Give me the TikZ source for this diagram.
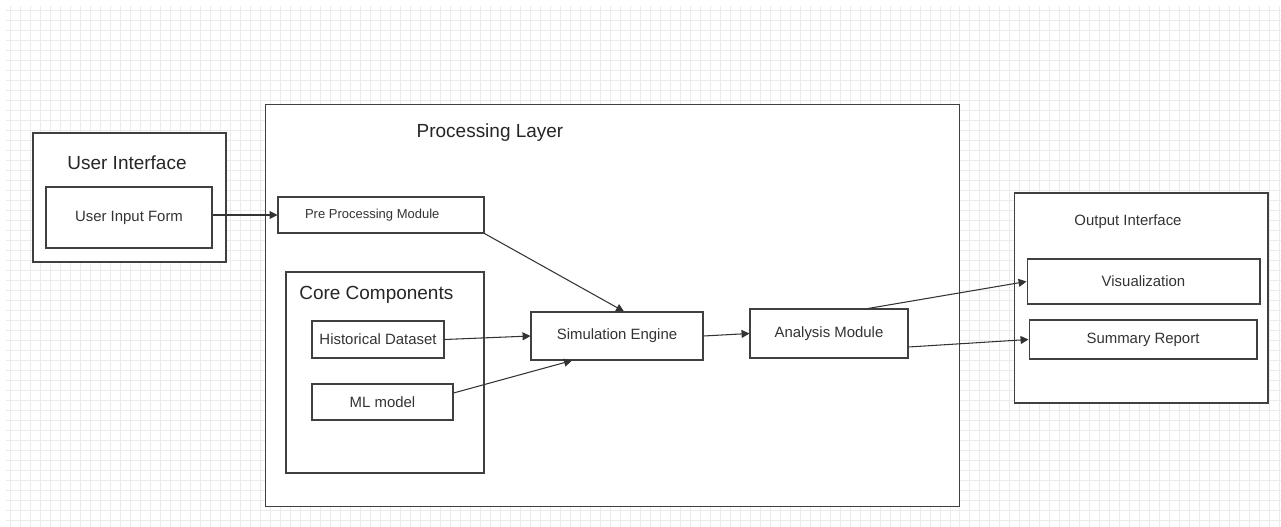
\documentclass[tikz,border=0pt]{standalone}
\usepackage{fontspec}
\setmainfont{Liberation Sans}
\usetikzlibrary{arrows.meta}
\begin{document}
\begin{tikzpicture}[x=0.02cm,y=-0.02cm,
  box/.style={draw=black!75, line width=0.6pt, inner sep=0pt, align=center, text=black!80},
  bigtitle/.style={font=\fontsize{10.8}{12}\selectfont, text=black!85, inner sep=0pt},
  small/.style={font=\fontsize{8.5}{10}\selectfont},
  conn/.style={draw=black!80, line width=0.6pt, -{Triangle[length=4.5pt,width=4.5pt]}}]
\useasboundingbox (0,0) rectangle (1281,527);
\fill[white] (0,0) rectangle (1281,527);
\draw[black!8, line width=0.35pt, step=0.2cm] (6,6) grid (1281,527);
% containers
\node[box, fill=white, minimum width=13.9cm, minimum height=8.06cm] (proc) at (612.5,305.5) {};
\node[bigtitle] (proct) at (490,133) {Processing Layer};
\node[box, fill=white, minimum width=3.86cm, minimum height=2.58cm] (ui) at (129.5,197.5) {};
\node[bigtitle] (uit) at (127,163) {User Interface};
\node[box, minimum width=3.96cm, minimum height=4.02cm] (core) at (385,372.5) {};
\node[bigtitle, anchor=west] (coret) at (299,295) {Core Components};
\node[box, fill=white, minimum width=5.08cm, minimum height=4.2cm] (out) at (1141,298) {};
\node[small, text=black!80, inner sep=0pt] (outt) at (1128,222) {Output Interface};
% inner boxes
\node[box, small, fill=white, minimum width=3.32cm, minimum height=1.22cm] (uif) at (129,217.5) {User Input Form};
\node[box, fill=white, font=\fontsize{7.4}{9}\selectfont, minimum width=4.12cm, minimum height=0.72cm] (pre) at (381,215) {Pre Processing Module\hspace{0.35cm}};
\node[box, small, minimum width=2.64cm, minimum height=0.74cm] (hist) at (378,339.5) {Historical Dataset};
\node[box, small, minimum width=2.82cm, minimum height=0.72cm] (ml) at (382.5,402) {ML model};
\node[box, small, minimum width=3.44cm, minimum height=0.96cm] (sim) at (617,336) {Simulation Engine};
\node[box, small, minimum width=3.16cm, minimum height=0.98cm] (ana) at (829,333.5) {Analysis Module};
\node[box, small, fill=white, minimum width=4.66cm, minimum height=0.9cm] (vis) at (1143.5,281.5) {Visualization};
\node[box, small, fill=white, minimum width=4.56cm, minimum height=0.78cm] (sum) at (1143,339.5) {Summary Report};
% connectors
\draw[conn] (pre.west -| uif.east) -- (pre.west);
\draw[conn] (pre.south east) -- ([xshift=0.14cm]sim.north);
\draw[conn] (hist.east) -- (sim.west);
\draw[conn] ([yshift=0.18cm]ml.east) -- ([xshift=-0.9cm]sim.south);
\draw[conn] (sim.east) -- (ana.west);
\draw[conn] ([xshift=0.78cm]ana.north) -- (vis.west);
\draw[conn] ([yshift=-0.27cm]ana.east) -- (sum.west);
\end{tikzpicture}
\end{document}
